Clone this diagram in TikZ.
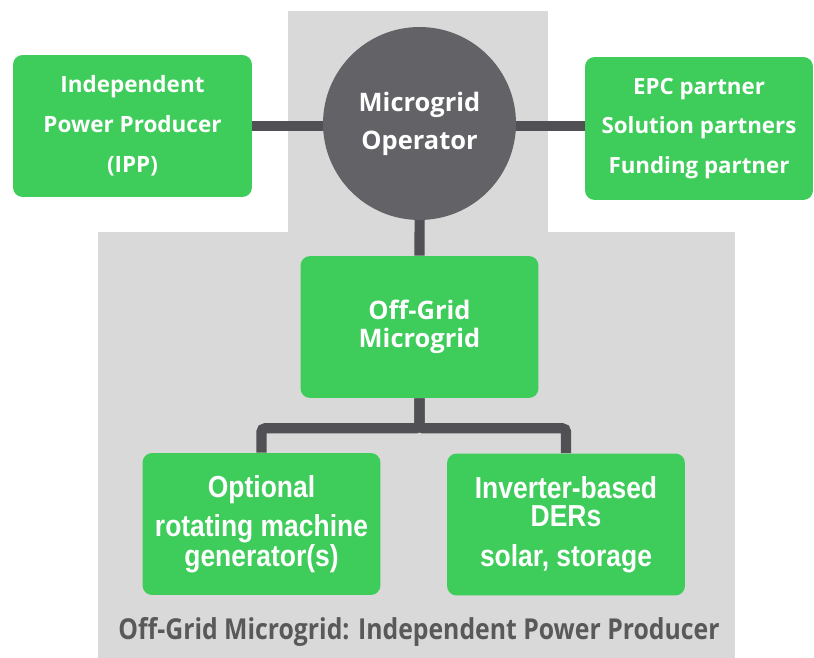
\documentclass[tikz,border=0pt]{standalone}
\usepackage{fontspec}
\setmainfont{Open Sans}
\newfontfamily\narrowf[FakeStretch=0.87]{Liberation Sans}
\newfontfamily\capf[FakeStretch=0.86]{Open Sans}
\usetikzlibrary{positioning}
\definecolor{grnc}{HTML}{3ECC5A}
\definecolor{opc}{HTML}{626267}
\definecolor{linec}{HTML}{505055}
\definecolor{bgc}{HTML}{D9D9D9}
\definecolor{capc}{HTML}{595959}
\tikzset{
  box/.style={fill=grnc,rounded corners=5.5pt,text=white,align=center,inner sep=2pt,
    minimum width=4.76cm,minimum height=2.84cm,font=\fontsize{12.8}{22.7}\selectfont\bfseries},
  ln/.style={line width=5.8pt,linec}
}
\begin{document}
\begin{tikzpicture}[x=0.02cm,y=-0.02cm]
\useasboundingbox (0,0) rectangle (814,658);
\fill[bgc] (288,11) rectangle (548,232);
\fill[bgc] (98,232) rectangle (735,658);
\node[box,minimum width=4.78cm] (ipp) at (132.5,126) {Independent\\Power Producer\\(IPP)};
\node[box,minimum width=4.56cm,minimum height=2.86cm,font=\fontsize{12.7}{22.7}\selectfont\bfseries] (part) at (699,128.5) {EPC partner\\Solution partners\\Funding partner};
\node[box,font=\fontsize{14.5}{16}\selectfont\bfseries] (og) at (419.5,327) {Off-Grid\\Microgrid};
\node[box,font=\narrowf\fontsize{17.3}{17}\selectfont\bfseries] (rot) at (261.5,524) {Optional\\[5.5pt]rotating machine\\generator(s)};
\node[box,font=\narrowf\fontsize{17.3}{16}\selectfont\bfseries] (inv) at (566,524.5) {Inverter-based\\DERs\\[6.5pt]solar, storage};
% links
\draw[ln] (ipp.east) -- (ipp.east -| 420,0);
\draw[ln] (part.west |- ipp.east) -- (ipp.east -| 420,0);
\draw[ln] (420,124) -- (og.north);
\draw[ln,rounded corners=2pt] (og.south) -- ++(0,30) -| (rot.north);
\draw[ln,rounded corners=2pt] (og.south) -- ++(0,30) -| (inv.north);
\node[circle,fill=opc,minimum size=3.86cm,text=white,align=center,
  font=\fontsize{14.5}{21.5}\selectfont\bfseries] (mo) at (419.5,123.5) {Microgrid\\Operator};
\node[text=capc,font=\capf\fontsize{16.4}{17}\selectfont\bfseries] (cap) at (419,632) {Off-Grid Microgrid: Independent Power Producer};
\end{tikzpicture}
\end{document}
